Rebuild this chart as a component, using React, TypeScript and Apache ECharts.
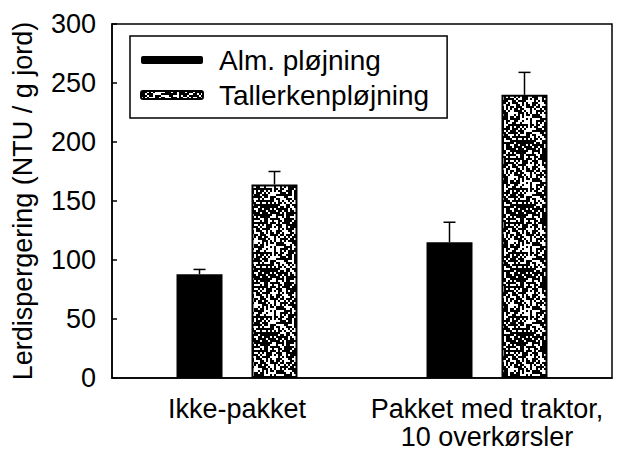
import React, { useEffect, useRef } from "react";
import * as echarts from "echarts";

const categories = ["Ikke-pakket", "Pakket med traktor,\n10 overkørsler"];
const seriesNames = ["Alm. pløjning", "Tallerkenpløjning"];
const almValues = [88, 115];
const almErrTop = [92, 132];
const tallValues = [164, 240];
const tallErrTop = [175, 259];
const yTicks = { min: 0, max: 300, interval: 50 };

const FONT = "Liberation Sans, Arial, sans-serif";

function makeStipple(): HTMLCanvasElement {
  const c = document.createElement("canvas");
  c.width = 64;
  c.height = 64;
  const ctx = c.getContext("2d")!;
  ctx.fillStyle = "#fff";
  ctx.fillRect(0, 0, 64, 64);
  ctx.fillStyle = "#000";
  for (let y = 0; y < 64; y += 2) {
    for (let x = 0; x < 64; x += 2) {
      const h = Math.sin(x * 12.9898 + y * 78.233) * 43758.5453;
      const f = h - Math.floor(h);
      if (f < 0.62) ctx.fillRect(x, y, 2, 2);
    }
  }
  return c;
}

export default function App() {
  const ref = useRef<HTMLDivElement>(null);
  useEffect(() => {
    document.body.style.margin = "0";
    const chart = echarts.init(ref.current!, null, { renderer: "svg" });
    const stipple = makeStipple();
    const barW = 46;
    const offset = 37.5;
    const errData = [
      ...almValues.map((v, i) => [i, v, almErrTop[i], -offset]),
      ...tallValues.map((v, i) => [i, v, tallErrTop[i], offset]),
    ];
    chart.setOption({
      animation: false,
      textStyle: { fontFamily: FONT, color: "#000" },
      grid: {
        left: 112,
        right: 11,
        top: 24,
        bottom: 75,
        outerBoundsMode: "none",
        containLabel: false,
        show: true,
        borderColor: "#000",
        borderWidth: 1.5,
      },
      legend: {
        data: seriesNames,
        orient: "vertical",
        left: 130,
        top: 36,
        itemWidth: 62,
        itemHeight: 8,
        itemGap: 5,
        padding: [9, 18, 8, 10],
        borderColor: "#000",
        borderWidth: 1.5,
        backgroundColor: "#fff",
        selectedMode: false,
        textStyle: {
          fontSize: 28,
          fontFamily: FONT,
          color: "#000",
          lineHeight: 30,
          padding: [0, 0, 0, 11],
        },
      },
      xAxis: {
        type: "category",
        data: categories,
        axisLine: { lineStyle: { color: "#000", width: 1.5 } },
        axisTick: { show: false },
        axisLabel: {
          fontSize: 27,
          fontFamily: FONT,
          color: "#000",
          margin: 17,
          lineHeight: 28,
          interval: 0,
        },
      },
      yAxis: {
        type: "value",
        min: yTicks.min,
        max: yTicks.max,
        interval: yTicks.interval,
        name: "Lerdispergering (NTU / g jord)",
        nameLocation: "middle",
        nameGap: 76,
        nameTextStyle: { fontSize: 27, fontFamily: FONT, color: "#000" },
        splitLine: { show: false },
        axisLine: { show: true, lineStyle: { color: "#000", width: 1.5 } },
        axisTick: { show: true, inside: true, length: 5, lineStyle: { color: "#000", width: 1.5 } },
        axisLabel: { fontSize: 27, fontFamily: FONT, color: "#000", margin: 16 },
      },
      series: [
        {
          name: seriesNames[0],
          type: "bar",
          data: almValues,
          barWidth: barW,
          barGap: "63%",
          itemStyle: { color: "#000" },
        },
        {
          name: seriesNames[1],
          type: "bar",
          data: tallValues,
          barWidth: barW,
          itemStyle: {
            color: { image: stipple, repeat: "repeat" },
            borderColor: "#000",
            borderWidth: 2,
          },
        },
        {
          type: "custom",
          name: "err",
          data: errData,
          encode: { x: 0, y: 2 },
          z: 10,
          renderItem: (params: any, api: any) => {
            const cat = api.value(0);
            const base = api.coord([cat, api.value(1)]);
            const top = api.coord([cat, api.value(2)]);
            const x = base[0] + api.value(3);
            const style = { stroke: "#000", lineWidth: 1.5 };
            return {
              type: "group",
              children: [
                { type: "line", shape: { x1: x, y1: base[1], x2: x, y2: top[1] }, style },
                { type: "line", shape: { x1: x - 6, y1: top[1], x2: x + 6, y2: top[1] }, style },
              ],
            };
          },
        },
      ],
    });
    return () => chart.dispose();
  }, []);
  return <div ref={ref} style={{ width: 623, height: 453 }} />;
}
